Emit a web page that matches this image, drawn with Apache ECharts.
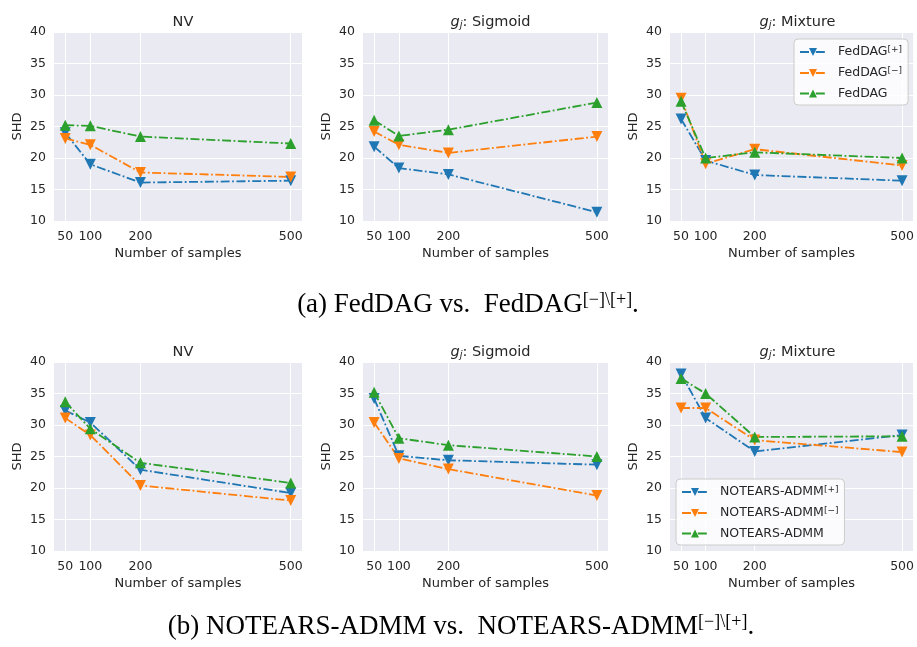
<!DOCTYPE html>
<html>
<head>
<meta charset="utf-8">
<script src="https://cdn.jsdelivr.net/npm/echarts@6/dist/echarts.min.js"></script>
<style>
  html, body { margin: 0; padding: 0; background: #fff; }
  #main { width: 917px; height: 647px; }
</style>
</head>
<body>
<div id="main"></div>
<script>
// x positions (number of samples)
const samples = [50, 100, 200, 500];
const yTicks = [10, 40, 5]; // min, max, step

// (a) FedDAG
const fedPlusNV = [24.0, 19.0, 16.1, 16.4];
const fedMinusNV = [23.1, 22.1, 17.7, 17.0];
const fedNV = [25.2, 25.1, 23.4, 22.3];
const fedPlusSig = [21.8, 18.4, 17.4, 11.4];
const fedMinusSig = [24.2, 22.1, 20.8, 23.4];
const fedSig = [26.0, 23.5, 24.5, 28.8];
const fedPlusMix = [26.2, 19.6, 17.3, 16.4];
const fedMinusMix = [29.5, 19.1, 21.4, 18.8];
const fedMix = [29.0, 20.0, 20.9, 20.0];

// (b) NOTEARS-ADMM
const admmPlusNV = [32.3, 30.4, 22.9, 19.2];
const admmMinusNV = [31.1, 28.4, 20.4, 18.0];
const admmNV = [33.7, 29.4, 24.0, 20.8];
const admmPlusSig = [34.2, 25.1, 24.4, 23.7];
const admmMinusSig = [30.4, 24.7, 23.0, 18.8];
const admmSig = [35.2, 27.9, 26.8, 25.0];
const admmPlusMix = [38.1, 31.1, 25.8, 28.4];
const admmMinusMix = [32.7, 32.7, 27.6, 25.7];
const admmMix = [37.4, 35.0, 28.1, 28.2];

const fedNames = ['FedDAG[+]', 'FedDAG[−]', 'FedDAG'];
const admmNames = ['NOTEARS-ADMM[+]', 'NOTEARS-ADMM[−]', 'NOTEARS-ADMM'];
const panelTitles = ['NV', '{i|g}{sub|j}: Sigmoid', '{i|g}{sub|j}: Mixture'];

const panels = [
  [fedPlusNV, fedMinusNV, fedNV],
  [fedPlusSig, fedMinusSig, fedSig],
  [fedPlusMix, fedMinusMix, fedMix],
  [admmPlusNV, admmMinusNV, admmNV],
  [admmPlusSig, admmMinusSig, admmSig],
  [admmPlusMix, admmMinusMix, admmMix]
];

const colors = ['#1f77b4', '#ff7f0e', '#2ca02c'];
const txt = '#262626';
const font = 'DejaVu Sans';

const lefts = [54, 363, 670];
const widths = [248, 245, 245];
const tops = [32, 362];

const grids = [], xAxes = [], yAxes = [], series = [], titles = [];

for (let p = 0; p < 6; p++) {
  const col = p % 3, row = Math.floor(p / 3);
  grids.push({
    left: lefts[col], top: tops[row], width: widths[col], height: 189,
    show: true, backgroundColor: '#EAEAF2', borderWidth: 0
  });
  xAxes.push({
    type: 'value', gridIndex: p, min: 27.5, max: 522.5,
    axisLine: { show: false },
    axisTick: { show: false, customValues: samples },
    axisLabel: { customValues: samples, color: txt, fontFamily: font, fontSize: 12.5, margin: 9 },
    splitLine: { show: true, lineStyle: { color: '#fff', width: 1 } },
    name: 'Number of samples', nameLocation: 'middle', nameGap: 26,
    nameTextStyle: { color: txt, fontFamily: font, fontSize: 13 }
  });
  yAxes.push({
    type: 'value', gridIndex: p, min: yTicks[0], max: yTicks[1], interval: yTicks[2],
    axisLine: { show: false }, axisTick: { show: false },
    axisLabel: { color: txt, fontFamily: font, fontSize: 12.5, margin: 8 },
    splitLine: { show: true, lineStyle: { color: '#fff', width: 1 } },
    name: 'SHD', nameLocation: 'middle', nameGap: 30,
    nameTextStyle: { color: txt, fontFamily: font, fontSize: 13 }
  });
  const names = row === 0 ? fedNames : admmNames;
  panels[p].forEach((vals, m) => {
    series.push({
      type: 'line', name: names[m], xAxisIndex: p, yAxisIndex: p,
      data: samples.map((x, i) => [x, vals[i]]),
      symbol: 'triangle', symbolRotate: m < 2 ? 180 : 0, symbolSize: 11,
      color: colors[m],
      itemStyle: { color: colors[m] },
      lineStyle: { width: 1.8, type: [9, 2.5, 1.8, 2.5], color: colors[m] },
      animation: false
    });
  });
  titles.push({
    text: panelTitles[col], left: lefts[col] + widths[col] / 2, top: tops[row] - 22,
    textAlign: 'center',
    textStyle: {
      color: txt, fontFamily: font, fontSize: 14.5, fontWeight: 'normal',
      rich: {
        i: { fontStyle: 'italic', fontSize: 14.5, fontFamily: font, color: txt },
        sub: { fontStyle: 'italic', fontSize: 10, fontFamily: font, color: txt, verticalAlign: 'bottom', lineHeight: 10 }
      }
    }
  });
}

const capStyle = {
  color: '#000', fontFamily: 'Liberation Serif', fontSize: 27, fontWeight: 'normal',
  rich: { s: { fontFamily: 'Liberation Serif', fontSize: 18, color: '#000', verticalAlign: 'top', lineHeight: 14 } }
};
titles.push({ text: '(a) FedDAG vs.  FedDAG{s|[−]\\[+]}.', left: 463, top: 286, textAlign: 'center', textStyle: capStyle });
titles.push({ text: '(b) NOTEARS-ADMM vs.  NOTEARS-ADMM{s|[−]\\[+]}.', left: 456, top: 608, textAlign: 'center', textStyle: capStyle });

function legendFmt(name) {
  const m = name.match(/^(.*?)(\[.\])?$/);
  return m[2] ? '{b|' + m[1] + '}{s|' + m[2] + '}' : '{b|' + name + '}';
}
const legendText = {
  color: txt, fontFamily: font, fontSize: 12.5,
  rich: {
    b: { color: txt, fontFamily: font, fontSize: 12.5, lineHeight: 14, padding: [0, 0, 0, 7] },
    s: { color: txt, fontFamily: font, fontSize: 9, verticalAlign: 'top', lineHeight: 9 }
  }
};
const legendBase = {
  orient: 'vertical', itemWidth: 26, itemHeight: 10, itemGap: 7.5,
  backgroundColor: 'rgba(255,255,255,0.8)', borderColor: '#cccccc', borderWidth: 1, borderRadius: 4,
  padding: [6, 6, 5, 5], formatter: legendFmt, textStyle: legendText
};

const chart = echarts.init(document.getElementById('main'), null, { renderer: 'canvas' });
chart.setOption({
  backgroundColor: '#fff',
  animation: false,
  title: titles,
  grid: grids,
  xAxis: xAxes,
  yAxis: yAxes,
  legend: [
    Object.assign({}, legendBase, { data: fedNames, left: 794, top: 39 }),
    Object.assign({}, legendBase, { data: admmNames, left: 676, top: 479 })
  ],
  series: series
});
</script>
</body>
</html>
